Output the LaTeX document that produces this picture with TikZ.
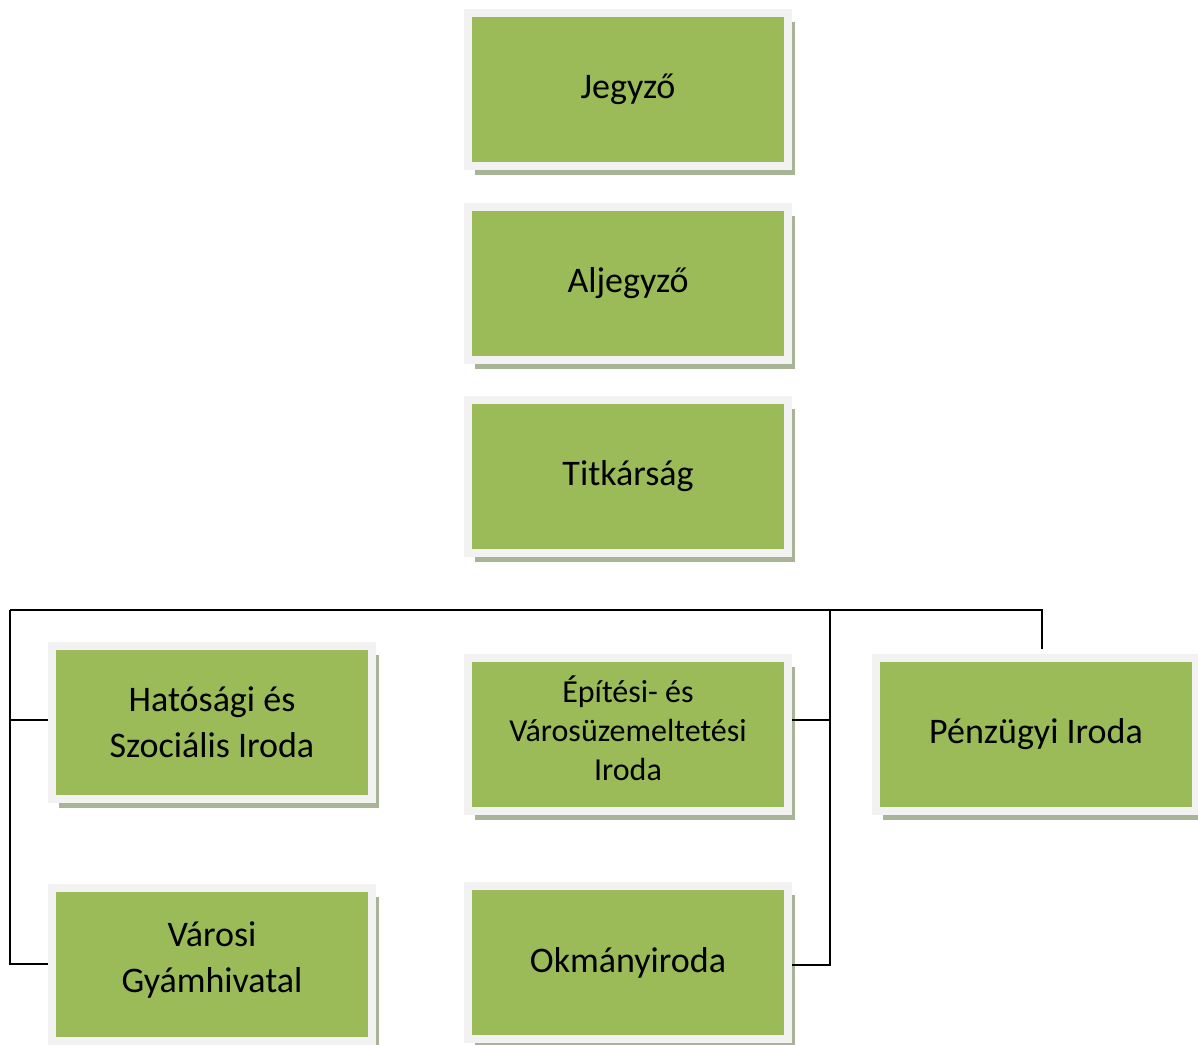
\documentclass[tikz,border=0pt]{standalone}
\usepackage{fontspec}
\setmainfont{Carlito}
\usetikzlibrary{shadows}
\definecolor{boxgreen}{HTML}{9BBB59}
\definecolor{boxframe}{HTML}{F2F2F2}
\definecolor{boxshadow}{HTML}{A7B495}
\tikzset{
  unit/.style={fill=boxgreen, draw=boxframe, line width=4pt,
    minimum width=160pt, minimum height=76.5pt, align=center,
    font=\fontsize{18}{23}\selectfont, inner sep=0pt,
    drop shadow={shadow xshift=3.5pt, shadow yshift=-4.5pt, fill=boxshadow, opacity=1}},
  small/.style={font=\fontsize{16}{19.5}\selectfont},
  conn/.style={line width=1pt, black}
}
\begin{document}
\begin{tikzpicture}[x=0.5pt,y=-0.5pt]
\useasboundingbox (0,0) rectangle (1198,1044);
% vezetes
\node[unit] (jegyzo) at (628,89.5) {Jegyző};
\node[unit] (aljegyzo) at (628,283.5) {Aljegyző};
\node[unit] (titk) at (628,476.5) {Titkárság};
% irodak
\node[unit] (hat) at (212,722.5) {Hatósági és\\Szociális Iroda};
\node[unit, small] (epit) at (628,734)
  {\raisebox{3pt}{\begin{tabular}{@{}c@{}}Építési- és\\Városüzemeltetési\\Iroda\end{tabular}}};
\node[unit] (penz) at (1036,734) {Pénzügyi Iroda};
\node[unit] (gyam) at (212,964)
  {\raisebox{2pt}[\height][\depth]{\begin{tabular}{@{}c@{}}Városi\\Gyámhivatal\end{tabular}}};
\node[unit] (okm) at (628,962.5) {Okmányiroda};
% vonalak
\coordinate (busL) at (10,610);
\coordinate (busM) at (830,610);
\coordinate (busR) at (1042,610);
\draw[conn] (busL) -- (busR) -- ([yshift=2.5pt]busR |- penz.north);
\draw[conn] ([yshift=1.25pt]hat.west) -| (busL);
\draw[conn] (gyam.west) -| (busL);
\draw[conn] ([yshift=7pt]epit.east) -| (busM);
\draw[conn] ([yshift=-1.25pt]okm.east) -| (busM);
\end{tikzpicture}
\end{document}
